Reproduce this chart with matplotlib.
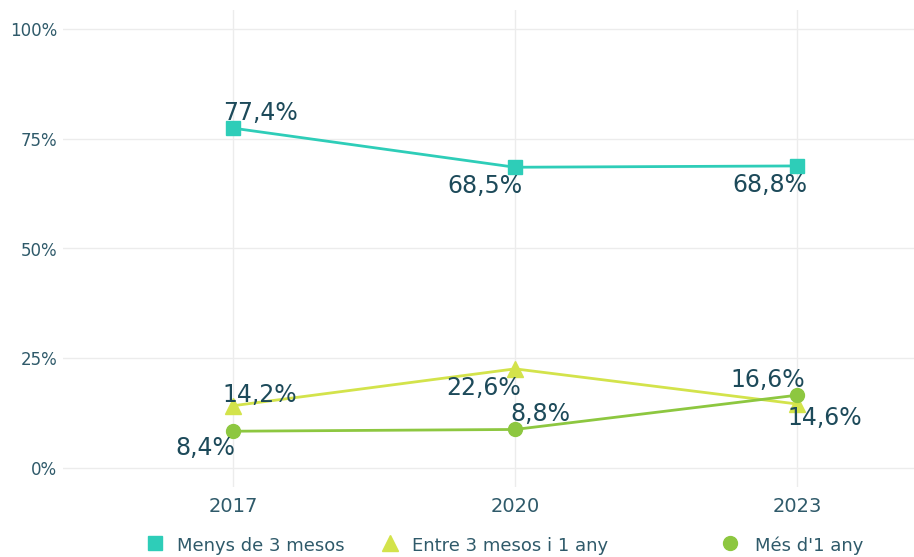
import numpy as np
import matplotlib
matplotlib.use("Agg")
import matplotlib.pyplot as plt
from matplotlib.lines import Line2D

years = ["2017", "2020", "2023"]
menys_3m = [77.4, 68.5, 68.8]
entre_3m_1a = [14.2, 22.6, 14.6]
mes_1a = [8.4, 8.8, 16.6]
series_names = ["Menys de 3 mesos", "Entre 3 mesos i 1 any", "Més d'1 any"]

colors = ["#2ecdb8", "#d3e34b", "#8dc740"]
markers = ["s", "^", "o"]
text_col = "#1d4a5a"
tick_col = "#2f5a6a"

# label offsets in pixels (dx, dy) for each point
offsets = [
    [(27, 15), (-30, -19), (-27, -19)],
    [(27, 11), (-31, -19), (28, -14)],
    [(-28, -17), (25, 15), (-29, 15)],
]

plt.rcParams['font.family'] = ['DejaVu Sans']

W, H = 914, 557
fig = plt.figure(figsize=(W / 100, H / 100), dpi=100)
ax = fig.add_axes([63 / W, 70 / H, 851 / W, 477 / H])

x = np.arange(len(years))
all_series = [menys_3m, entre_3m_1a, mes_1a]
for vals, col, mk, name, offs in zip(all_series, colors, markers, series_names, offsets):
    ms = 11 if mk == "^" else 10
    ax.plot(x, vals, color=col, lw=2, marker=mk, markersize=ms, label=name, zorder=3)
    for xi, v, (dx, dy) in zip(x, vals, offs):
        ax.annotate(f"{v:.1f}%".replace(".", ","), (xi, v), xytext=(dx, dy),
                    textcoords="offset pixels", ha="center", va="center",
                    fontsize=17, color=text_col, zorder=4)

ax.set_xlim(-0.603, 2.415)
ax.set_ylim(-4.3, 104.3)
ax.set_yticks([0, 25, 50, 75, 100])
ax.set_yticklabels(["0%", "25%", "50%", "75%", "100%"])
ax.set_xticks(x)
ax.set_xticklabels(years)
ax.tick_params(axis="y", length=0, pad=4, labelsize=12, labelcolor=tick_col)
ax.tick_params(axis="x", length=0, pad=7, labelsize=14, labelcolor=tick_col)
ax.grid(True, color="#ececec", lw=1)
ax.set_axisbelow(True)
for s in ax.spines.values():
    s.set_visible(False)

# legend drawn by hand so the items sit where the reference has them
legend_marker_x = [155, 390, 730]
legend_text_x = [177, 412, 755]
for mx, tx, c, m, name in zip(legend_marker_x, legend_text_x, colors, markers, series_names):
    ms = 11 if m == "^" else 10
    fig.add_artist(Line2D([mx / W], [1 - 543 / H], transform=fig.transFigure,
                          color=c, marker=m, ls="none", markersize=ms))
    fig.text(tx / W, 1 - 544 / H, name, ha="left", va="center_baseline",
             fontsize=13, color=tick_col)

fig.savefig("out.png", dpi=100)
plt.close()
